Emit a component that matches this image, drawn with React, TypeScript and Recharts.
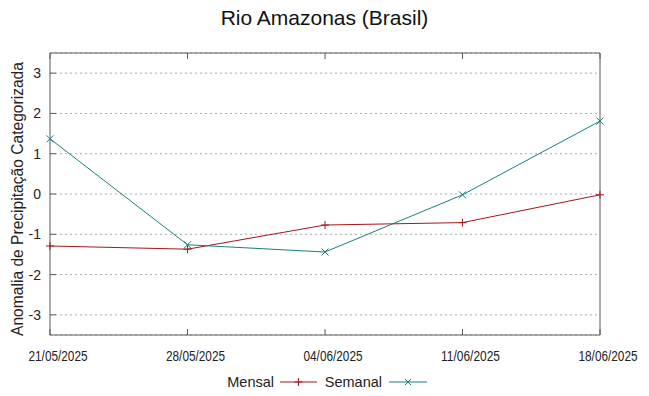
import React from 'react';
import { LineChart, Line, XAxis, YAxis, CartesianGrid } from 'recharts';

const dates = ['21/05/2025', '28/05/2025', '04/06/2025', '11/06/2025', '18/06/2025'];
const mensal = [-1.29, -1.37, -0.77, -0.71, -0.02];
const semanal = [1.37, -1.26, -1.44, -0.02, 1.81];
const yTicks = [-3, -2, -1, 0, 1, 2, 3];
const seriesNames = ['Mensal', 'Semanal'];
const title = 'Rio Amazonas (Brasil)';
const yLabel = 'Anomalia de Precipitação Categorizada';

const data = dates.map((d, i) => ({ date: d, [seriesNames[0]]: mensal[i], [seriesNames[1]]: semanal[i] }));

const RED = '#a3161a';
const TEAL = '#16807f';
const AXIS = '#5a5a5a';
const FONT = '"Liberation Sans", Arial, sans-serif';
const NARROW = '"Liberation Sans Narrow", "Arial Narrow", "Liberation Sans", sans-serif';

const PlusDot = (p: any) => {
  const { cx, cy } = p;
  if (cx == null || cy == null) return null;
  return (
    <g stroke={RED} strokeWidth={1}>
      <line x1={cx - 4} x2={cx + 4} y1={cy} y2={cy} />
      <line x1={cx} x2={cx} y1={cy - 4} y2={cy + 4} />
    </g>
  );
};

const XDot = (p: any) => {
  const { cx, cy } = p;
  if (cx == null || cy == null) return null;
  return (
    <g stroke={TEAL} strokeWidth={1}>
      <line x1={cx - 3.5} x2={cx + 3.5} y1={cy - 3.5} y2={cy + 3.5} />
      <line x1={cx - 3.5} x2={cx + 3.5} y1={cy + 3.5} y2={cy - 3.5} />
    </g>
  );
};

const BottomTick = (p: any) => {
  const { x, y, payload } = p;
  return (
    <g>
      <line x1={x} x2={x} y1={y} y2={y - 6} stroke={AXIS} />
      <text x={x + 8} y={y + 26} textAnchor="middle" fontSize={14} fontFamily={NARROW} fill="#222" textLength={59} lengthAdjust="spacingAndGlyphs">
        {payload.value}
      </text>
    </g>
  );
};

const TopTick = (p: any) => {
  const { x, y } = p;
  return <line x1={x} x2={x} y1={y} y2={y + 6} stroke={AXIS} />;
};

const LeftTick = (p: any) => {
  const { x, y, payload } = p;
  return (
    <g>
      <line x1={x} x2={x + 6} y1={y} y2={y} stroke={AXIS} />
      <text x={x - 9} y={y + 5} textAnchor="end" fontSize={14} fontFamily={FONT} fill="#222">
        {payload.value}
      </text>
    </g>
  );
};

const RightTick = (p: any) => {
  const { x, y } = p;
  return <line x1={x} x2={x - 6} y1={y} y2={y} stroke={AXIS} />;
};

export default function App() {
  return (
    <div style={{ position: 'absolute', left: 0, top: 0, width: 649, height: 396, background: '#fff', fontFamily: FONT }}>
      <div style={{ position: 'absolute', left: 0, top: 5, width: 649, textAlign: 'center', fontSize: 21, color: '#111', lineHeight: '26px' }}>
        {title}
      </div>
      <div
        style={{
          position: 'absolute',
          left: 18,
          top: 199,
          transform: 'translate(-50%, -50%) rotate(-90deg)',
          whiteSpace: 'nowrap',
          fontSize: 15.6,
          color: '#222',
        }}
      >
        {yLabel}
      </div>
      <LineChart width={649} height={396} data={data} margin={{ top: 43, right: 9, bottom: 1, left: 0 }}>
        <CartesianGrid vertical={false} stroke="#aaaaaa" strokeDasharray="2 3" />
        <XAxis dataKey="date" height={60} tickSize={0} tickMargin={0} tickLine={false} axisLine={{ stroke: AXIS }} tick={<BottomTick />} interval={0} />
        <XAxis xAxisId="top" orientation="top" dataKey="date" height={10} tickSize={0} tickMargin={0} tickLine={false} axisLine={{ stroke: AXIS }} tick={<TopTick />} interval={0} />
        <YAxis type="number" domain={[-3.5, 3.5]} ticks={yTicks} width={50} tickSize={0} tickMargin={0} tickLine={false} axisLine={{ stroke: AXIS }} tick={<LeftTick />} interval={0} />
        <YAxis yAxisId="right" orientation="right" type="number" domain={[-3.5, 3.5]} ticks={yTicks} width={40} tickSize={0} tickMargin={0} tickLine={false} axisLine={{ stroke: AXIS }} tick={<RightTick />} interval={0} />
        <Line type="linear" dataKey={seriesNames[0]} stroke={RED} strokeWidth={1} dot={<PlusDot />} activeDot={false} isAnimationActive={false} />
        <Line type="linear" dataKey={seriesNames[1]} stroke={TEAL} strokeWidth={1} dot={<XDot />} activeDot={false} isAnimationActive={false} />
      </LineChart>
      <div style={{ position: 'absolute', left: 0, top: 372, width: 649, height: 20, fontSize: 14.5, color: '#222' }}>
        <span style={{ position: 'absolute', right: 649 - 274, top: 0, lineHeight: '20px' }}>{seriesNames[0]}</span>
        <svg style={{ position: 'absolute', left: 280, top: 0 }} width={40} height={20}>
          <line x1={0} x2={37} y1={10} y2={10} stroke={RED} />
          <line x1={14.5} x2={22.5} y1={10} y2={10} stroke={RED} />
          <line x1={18.5} x2={18.5} y1={6} y2={14} stroke={RED} />
        </svg>
        <span style={{ position: 'absolute', right: 649 - 382, top: 0, lineHeight: '20px' }}>{seriesNames[1]}</span>
        <svg style={{ position: 'absolute', left: 389, top: 0 }} width={40} height={20}>
          <line x1={0} x2={38} y1={10} y2={10} stroke={TEAL} />
          <line x1={16} x2={22} y1={7} y2={13} stroke={TEAL} />
          <line x1={16} x2={22} y1={13} y2={7} stroke={TEAL} />
        </svg>
      </div>
    </div>
  );
}
